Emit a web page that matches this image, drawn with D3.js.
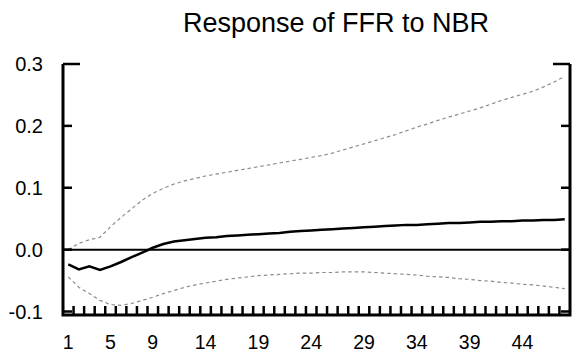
<!DOCTYPE html>
<html>
<head>
    <title></title>
    <meta charset="utf-8" />
    <script src="https://cdn.jsdelivr.net/npm/d3@7"></script>
    <style>
        body { margin: 0; background: #fff; }
        text { font-family: "Liberation Sans", Arial, sans-serif; fill: #000; }
        .band { fill: none; stroke: #8c8c8c; stroke-width: 1.2; stroke-dasharray: 3.5,3; }
        .irf { fill: none; stroke: #000; stroke-width: 2.5; }
    </style>
</head>
<body>
    <script>
        var periods = d3.range(1, 49);
        var xLabels = [1, 5, 9, 14, 19, 24, 29, 34, 39, 44];
        var yTicks = [-0.1, 0.0, 0.1, 0.2, 0.3];

        var response = [-0.024, -0.032, -0.027, -0.033, -0.027, -0.020, -0.012, -0.005, 0.003, 0.009,
            0.013, 0.015, 0.017, 0.019, 0.020, 0.022, 0.023, 0.024, 0.025, 0.026,
            0.027, 0.029, 0.030, 0.031, 0.032, 0.033, 0.034, 0.035, 0.036, 0.037,
            0.038, 0.039, 0.040, 0.040, 0.041, 0.042, 0.043, 0.043, 0.044, 0.045,
            0.045, 0.046, 0.046, 0.047, 0.047, 0.048, 0.048, 0.049];
        var upper = [0.000, 0.010, 0.016, 0.020, 0.037, 0.052, 0.066, 0.080, 0.091, 0.099,
            0.106, 0.111, 0.115, 0.119, 0.122, 0.125, 0.128, 0.131, 0.134, 0.137,
            0.140, 0.143, 0.146, 0.149, 0.152, 0.156, 0.161, 0.166, 0.171, 0.176,
            0.181, 0.186, 0.192, 0.198, 0.203, 0.209, 0.214, 0.219, 0.224, 0.229,
            0.235, 0.241, 0.246, 0.251, 0.256, 0.263, 0.271, 0.280];
        var lower = [-0.044, -0.061, -0.071, -0.082, -0.089, -0.090, -0.087, -0.082, -0.077, -0.071,
            -0.066, -0.061, -0.057, -0.054, -0.051, -0.048, -0.046, -0.044, -0.042, -0.041,
            -0.040, -0.039, -0.038, -0.038, -0.037, -0.037, -0.036, -0.036, -0.036, -0.037,
            -0.038, -0.039, -0.040, -0.041, -0.043, -0.044, -0.045, -0.047, -0.048, -0.050,
            -0.051, -0.053, -0.054, -0.056, -0.057, -0.059, -0.061, -0.063];

        var W = 573, H = 356;
        var left = 63, right = 570;

        var svg = d3.select('body').append('svg').attr('width', W).attr('height', H);

        var x = d3.scaleBand().domain(periods).range([left, right]);
        var y = d3.scaleLinear().domain([-0.1, 0.3]).range([311.5, 64]);
        var cx = function (p) { return x(p) + x.bandwidth() / 2; };
        var base = y(-0.1) + 3.5;

        // title
        svg.append('text')
            .attr('x', 336).attr('y', 32)
            .attr('text-anchor', 'middle')
            .style('font-size', '27px')
            .text('Response of FFR to NBR');

        // bands and response
        var line = function (vals) {
            return d3.line()
                .x(function (d, i) { return cx(periods[i]); })
                .y(function (d) { return y(d); })(vals);
        };
        svg.append('path').attr('class', 'band').attr('d', line(upper));
        svg.append('path').attr('class', 'band').attr('d', line(lower));

        // zero line
        svg.append('line')
            .attr('x1', left).attr('x2', right)
            .attr('y1', y(0)).attr('y2', y(0))
            .attr('stroke', '#000').attr('stroke-width', 2);

        svg.append('path').attr('class', 'irf').attr('d', line(response));

        // y axis ticks (inward on both sides)
        yTicks.forEach(function (t) {
            var len = t === 0.3 ? 17 : 9;
            svg.append('line').attr('x1', left).attr('x2', left + len)
                .attr('y1', y(t)).attr('y2', y(t))
                .attr('stroke', '#000').attr('stroke-width', 2.5);
            svg.append('line').attr('x1', right).attr('x2', right - len)
                .attr('y1', y(t)).attr('y2', y(t))
                .attr('stroke', '#000').attr('stroke-width', 2.5);
            svg.append('text')
                .attr('x', 43).attr('y', y(t))
                .attr('dy', '0.36em')
                .attr('text-anchor', 'end')
                .style('font-size', '20px')
                .text(t.toFixed(1));
        });

        // x ticks at period boundaries
        svg.selectAll('.xt').data(periods.slice(1)).enter()
            .append('line')
            .attr('x1', function (p) { return x(p); })
            .attr('x2', function (p) { return x(p); })
            .attr('y1', base).attr('y2', base - 9)
            .attr('stroke', '#000').attr('stroke-width', 2.5);

        svg.selectAll('.xl').data(xLabels).enter()
            .append('text')
            .attr('x', function (p) { return cx(p); })
            .attr('y', 349)
            .attr('text-anchor', 'middle')
            .style('font-size', '19.5px')
            .text(function (p) { return p; });

        // frame: left, right, bottom
        svg.append('path')
            .attr('d', 'M' + left + ',' + y(0.3) + 'V' + base + 'H' + right + 'V' + y(0.3))
            .attr('fill', 'none').attr('stroke', '#000').attr('stroke-width', 3);
    </script>
</body>
</html>
